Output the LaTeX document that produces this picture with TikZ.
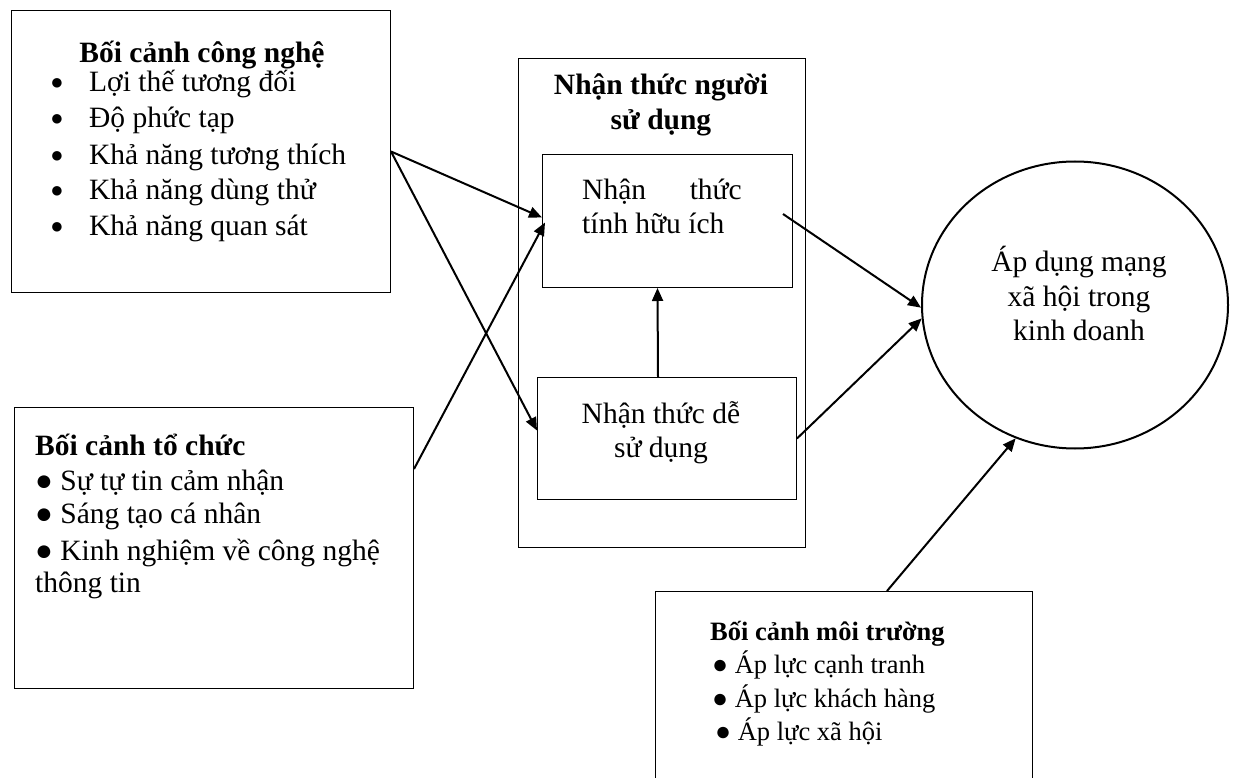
\documentclass[tikz,border=0pt]{standalone}
\usepackage{fontspec}
\setmainfont{Liberation Serif}
\usetikzlibrary{arrows.meta,shapes.geometric}
\begin{document}
\begin{tikzpicture}[x=1pt,y=-1pt,
  box/.style={draw, line width=1pt, inner sep=0pt, anchor=north west},
  txt/.style={anchor=base west, inner sep=0pt, font=\fontsize{29.5}{34}\selectfont},
  ctxt/.style={anchor=base, inner sep=0pt, font=\fontsize{29.5}{34}\selectfont},
  btxt/.style={anchor=base, inner sep=0pt, font=\fontsize{29.5}{34}\selectfont\bfseries},
  dot/.style={anchor=base, inner sep=0pt, font=\fontsize{22}{26}\selectfont},
  etxt/.style={anchor=base west, inner sep=0pt, font=\fontsize{26.5}{30}\selectfont},
  arr/.style={line width=2pt, -{Triangle[length=13pt,width=11pt]}},
]
\clip (0,0) rectangle (1235,778);
\fill[white] (0,0) rectangle (1235,778);

% technology context
\node[box, minimum width=379pt, minimum height=282pt] (tech) at (11,10) {};
\node[btxt] (tech0) at (202,63) {Bối cảnh công nghệ};
\node[dot] (tb1) at (57,90) {●};
\node[dot] (tb2) at (57,126) {●};
\node[dot] (tb3) at (57,163) {●};
\node[dot] (tb4) at (57,198) {●};
\node[dot] (tb5) at (57,234) {●};
\node[txt] (tech1) at (89,92) {Lợi thế tương đối};
\node[txt] (tech2) at (89,128) {Độ phức tạp};
\node[txt] (tech3) at (89,165) {Khả năng tương thích};
\node[txt] (tech4) at (89,200) {Khả năng dùng thử};
\node[txt] (tech5) at (89,236) {Khả năng quan sát};

% organisational context
\node[box, minimum width=399pt, minimum height=281pt] (org) at (14,407) {};
\node[txt, font=\fontsize{29.5}{34}\selectfont\bfseries] (org0) at (35,455) {Bối cảnh tổ chức};
\node[txt] (org1) at (35,490) {● Sự tự tin cảm nhận};
\node[txt] (org2) at (35,523) {● Sáng tạo cá nhân};
\node[txt] (org3) at (35,560) {● Kinh nghiệm về công nghệ};
\node[txt] (org4) at (35,592) {thông tin};

% user perception
\node[box, minimum width=287pt, minimum height=489pt] (user) at (518,58) {};
\node[btxt] (user1) at (661,95) {Nhận thức người};
\node[btxt] (user2) at (661,130) {sử dụng};

\node[box, minimum width=250pt, minimum height=133pt] (inner1) at (542,154) {};
\node[txt] (in1a) at (582,200) {Nhận};
\node[txt, anchor=base east] (in1b) at (742,200) {thức};
\node[txt] (in1c) at (582,234) {tính hữu ích};

\node[box, minimum width=259pt, minimum height=122pt] (inner2) at (537,377) {};
\node[ctxt] (in2a) at (661,423) {Nhận thức dễ};
\node[ctxt] (in2b) at (661,457) {sử dụng};

% goal
\node[draw, ellipse, line width=2pt, minimum width=306pt, minimum height=287pt, inner sep=0pt] (goal) at (1075,305) {};
\node[ctxt] (g1) at (1079,272) {Áp dụng mạng};
\node[ctxt] (g2) at (1079,307) {xã hội trong};
\node[ctxt] (g3) at (1079,340) {kinh doanh};

% environment context
\node[box, minimum width=377pt, minimum height=230pt] (env) at (655,591) {};
\node[etxt, font=\fontsize{26.5}{30}\selectfont\bfseries] (env0) at (710,640) {Bối cảnh môi trường};
\node[etxt] (env1) at (712,673) {● Áp lực cạnh tranh};
\node[etxt] (env2) at (712,707) {● Áp lực khách hàng};
\node[etxt] (env3) at (715,740) {● Áp lực xã hội};

% connectors
\draw[arr] (tech.east) -- ([yshift=3.5pt]inner1.west);
\draw[arr] (tech.east) -- ([yshift=8pt]inner2.west);
\draw[arr] ([yshift=79pt]org.east) -- ([shift={(3pt,-1.5pt)}]inner1.west);
\draw[arr] ([xshift=-9pt]inner2.north) -- ([xshift=-10pt]inner1.south);
\draw[arr] ([shift={(-10pt,7pt)}]inner1.east) -- (goal.181);
\draw[arr] (inner2.east) -- (goal.185);
\draw[arr] ([xshift=43pt]env.north) -- (goal.246);
\end{tikzpicture}
\end{document}
